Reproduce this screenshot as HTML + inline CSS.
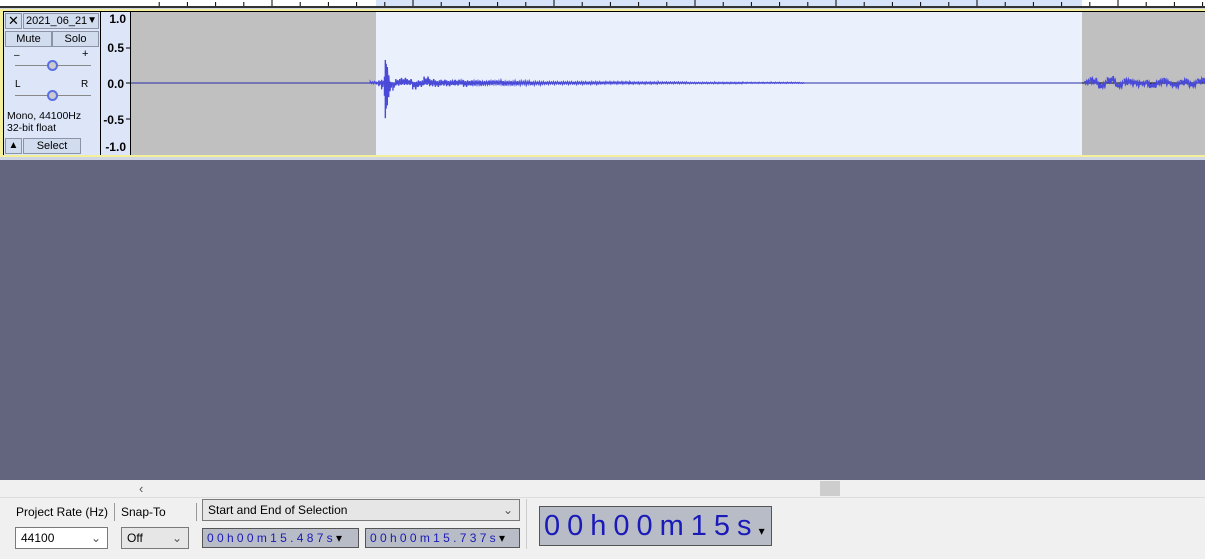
<!DOCTYPE html>
<html><head><meta charset="utf-8"><style>
body{margin:0;width:1205px;height:558px;overflow:hidden;background:#63657f;font-family:"Liberation Sans",sans-serif;position:relative}
.abs{position:absolute}
.btn{position:absolute;background:#d2dcef;border:1px solid #8a93a8;box-sizing:border-box;font-size:11px;text-align:center;color:#000}
.dd{position:absolute;background:#fff;border:1px solid #7a7a7a;box-sizing:border-box;font-size:12px;padding-left:5px;line-height:20px}
.tc{position:absolute;background:#b8bcc6;border:1px solid #555;box-sizing:border-box;color:#1a1ab8;font-family:"Liberation Sans",sans-serif;white-space:nowrap;overflow:hidden}
</style></head><body>
<svg class="abs" style="left:0;top:0" width="1205" height="160">
<rect x="0" y="0" width="1205" height="160" fill="#cfd5e2"/>
<rect x="0" y="0" width="1205" height="6" fill="#fff"/>
<rect x="376" y="0" width="706" height="6" fill="#d6e3f8"/>
<g id="ticks"></g>
<rect x="0" y="6" width="1205" height="2" fill="#333"/>
<rect x="0" y="9" width="1205" height="148" fill="#f3ef9a"/>
<rect x="3" y="11" width="1202" height="144" fill="#000"/>
<rect x="4" y="12" width="96" height="143" fill="#dce6f8"/>
<rect x="101" y="12" width="29" height="143" fill="#dce6f8"/>
<rect x="131" y="12" width="1074" height="143" fill="#c0c0c0"/>
<rect x="376" y="12" width="706" height="143" fill="#eaf1fd"/>
<g font-size="12" font-weight="bold" fill="#000" text-anchor="end">
<text x="126" y="23">1.0</text><text x="124" y="52">0.5</text><text x="124" y="88">0.0</text><text x="124" y="124">-0.5</text><text x="126" y="151">-1.0</text>
</g>
<g stroke="#000"><line x1="126" y1="48" x2="130" y2="48"/><line x1="126" y1="83" x2="130" y2="83"/><line x1="126" y1="119" x2="130" y2="119"/></g>
<line x1="131" y1="83" x2="1205" y2="83" stroke="#2a2aa8" stroke-width="1"/>
<line x1="1082" y1="83" x2="1205" y2="83" stroke="#000"/>
<g id="wave" fill="none" stroke="#4a4ad8" stroke-width="1.4"></g>
</svg>
<div class="btn" style="left:5px;top:13px;width:17px;height:16px;font-size:13px;line-height:14px">✕</div>
<div class="btn" style="left:23px;top:13px;width:76px;height:16px;line-height:14px;text-align:left;padding-left:2px">2021_06_21<span style="position:absolute;right:1px;font-size:10px">▼</span></div>
<div class="btn" style="left:5px;top:31px;width:47px;height:16px;line-height:14px">Mute</div>
<div class="btn" style="left:52px;top:31px;width:47px;height:16px;line-height:14px">Solo</div>
<div class="abs" style="left:14px;top:50px;font-size:10px">–</div><div class="abs" style="left:82px;top:48px;font-size:11px">+</div>
<div class="abs" style="left:15px;top:65px;width:76px;height:1px;background:#888"></div>
<div class="abs" style="left:47px;top:60px;width:7px;height:7px;border:2px solid #5a6ee6;border-radius:50%;background:#ccc"></div>
<div class="abs" style="left:15px;top:79px;font-size:10px">L</div><div class="abs" style="left:81px;top:79px;font-size:10px">R</div>
<div class="abs" style="left:15px;top:95px;width:76px;height:1px;background:#888"></div>
<div class="abs" style="left:47px;top:90px;width:7px;height:7px;border:2px solid #5a6ee6;border-radius:50%;background:#ccc"></div>
<div class="abs" style="left:7px;top:110px;font-size:10.5px;line-height:12px">Mono, 44100Hz<br>32-bit float</div>
<div class="btn" style="left:5px;top:138px;width:17px;height:16px;font-size:10px;line-height:14px">▲</div>
<div class="btn" style="left:23px;top:138px;width:58px;height:16px;line-height:14px">Select</div>
<div class="abs" style="left:0;top:480px;width:1205px;height:17px;background:#f0f0f0"></div>
<div class="abs" style="left:139px;top:481px;font-size:13px;color:#555">‹</div>
<div class="abs" style="left:820px;top:481px;width:20px;height:15px;background:#cdcdcd"></div>
<div class="abs" style="left:0;top:497px;width:1205px;height:61px;background:#f0f0f0;border-top:1px solid #ddd"></div>
<div class="abs" style="left:16px;top:505px;font-size:12px">Project Rate (Hz)</div>
<div class="abs" style="left:114px;top:503px;width:1px;height:18px;background:#999"></div>
<div class="abs" style="left:121px;top:505px;font-size:12px">Snap-To</div>
<div class="abs" style="left:196px;top:503px;width:1px;height:18px;background:#999"></div>
<div class="dd" style="left:15px;top:527px;width:93px;height:22px">44100<span style="position:absolute;right:6px;color:#555">⌄</span></div>
<div class="dd" style="left:121px;top:527px;width:68px;height:22px;background:#e6e6e6">Off<span style="position:absolute;right:6px;color:#555">⌄</span></div>
<div class="dd" style="left:202px;top:499px;width:318px;height:22px;background:#e6e6e6">Start and End of Selection<span style="position:absolute;right:6px;color:#555">⌄</span></div>
<div class="tc" style="left:202px;top:528px;width:157px;height:20px;font-size:12px;line-height:18px;letter-spacing:3.3px;padding-left:4px">00h00m15.487s<span style="color:#000;letter-spacing:0">▾</span></div>
<div class="tc" style="left:365px;top:528px;width:155px;height:20px;font-size:12px;line-height:18px;letter-spacing:3.3px;padding-left:4px">00h00m15.737s<span style="color:#000;letter-spacing:0">▾</span></div>
<div class="abs" style="left:526px;top:499px;width:1px;height:50px;background:#ccc"></div>
<div class="tc" style="left:539px;top:506px;width:233px;height:40px;font-size:29px;line-height:38px;letter-spacing:7px;padding-left:4px">00h00m15s<span style="font-size:12px;color:#000;letter-spacing:0">▾</span></div>
<script>
// time offset in ms from selection start (15.487 s), amplitudes -1..1
const selT=[-2,0,1,2,3,3.3,3.6,4,4.5,5,6,7,9,11,13,15,17,19,21,23,25,28,31,34,37,40,45,50,55,60,65,70,75,80,90,100,110,120,130,140,150];
const selHi=[0.02,0.02,0.04,0.05,0.1,0.36,0.3,0.25,0.12,0.02,0.0,0.06,0.08,0.06,0.02,0.04,0.1,0.06,0.04,0.05,0.04,0.05,0.04,0.04,0.03,0.04,0.03,0.03,0.02,0.02,0.02,0.02,0.02,0.02,0.015,0.015,0.01,0.01,0.01,0.01,0.005];
const selLo=[-0.01,-0.02,-0.05,-0.1,-0.2,-0.55,-0.4,-0.35,-0.22,-0.12,-0.12,-0.04,-0.03,-0.03,-0.1,-0.06,-0.03,-0.05,-0.06,-0.04,-0.05,-0.04,-0.06,-0.04,-0.04,-0.03,-0.04,-0.03,-0.03,-0.02,-0.02,-0.02,-0.02,-0.015,-0.015,-0.01,-0.01,-0.01,-0.005,-0.005,-0.005];
const endT=[251,253,255,257,259,261,263,265,267,269,271,273,275,277,279,281,283,285,287,289,291,293];
const endMid=[0.0,0.04,0.02,-0.06,0.03,0.06,-0.06,0.02,0.02,0.0,-0.01,0.0,-0.05,0.0,0.04,0.0,-0.04,0.0,0.03,-0.04,0.02,0.04];
const endSpread=[0.03,0.05,0.06,0.04,0.06,0.05,0.04,0.05,0.04,0.04,0.03,0.05,0.05,0.04,0.04,0.03,0.04,0.05,0.04,0.04,0.05,0.04];
const x=t=>376+t*2.824, y=a=>83-a*64;
const g=document.getElementById('wave');
const NS='http://www.w3.org/2000/svg';
selT.forEach((t,i)=>{
 const t2=i<selT.length-1?selT[i+1]:t+2;
 const x0=x(t),x1=x(t2);
 let d='M'+x0+','+y(selLo[i]);
 let k=0;
 for(let xx=x0;xx<x1;xx+=1){d+='L'+xx+','+(k%2?y(selLo[i]*((k%3)?0.6:1)):y(selHi[i]*((k%4)?0.7:1)));k++;}
 const p=document.createElementNS(NS,'path');
 
 
 p.setAttribute('d',d);
 g.appendChild(p);
});
endT.forEach((t,i)=>{
 const t2=i<endT.length-1?endT[i+1]:t+2;
 const m1=endMid[i],m2=i<endT.length-1?endMid[i+1]:endMid[i];
 const x0=x(t),x1=x(t2);let d='';let k=0;
 for(let xx=x0;xx<=x1;xx+=1){const f=(xx-x0)/(x1-x0);const m=m1+(m2-m1)*f;const s=endSpread[i]*(k%2?-1:1)*((k%3)?0.5:1);d+=(k?'L':'M')+xx+','+y(m+s);k++;}
 const p=document.createElementNS(NS,'path');
 
 
 p.setAttribute('d',d);p.setAttribute('stroke-width','1.8');
 g.appendChild(p);
});
const tk=document.getElementById('ticks');
for(let k=-9;k<30;k++){const xx=413+k*28.2;if(xx<130||xx>1205)continue;
 const l=document.createElementNS(NS,'line');
 
 
 l.setAttribute('x1',xx);l.setAttribute('x2',xx);l.setAttribute('y1',k%5===0?0:2);l.setAttribute('y2',6);l.setAttribute('stroke','#000');tk.appendChild(l);}
</script>
</body></html>
